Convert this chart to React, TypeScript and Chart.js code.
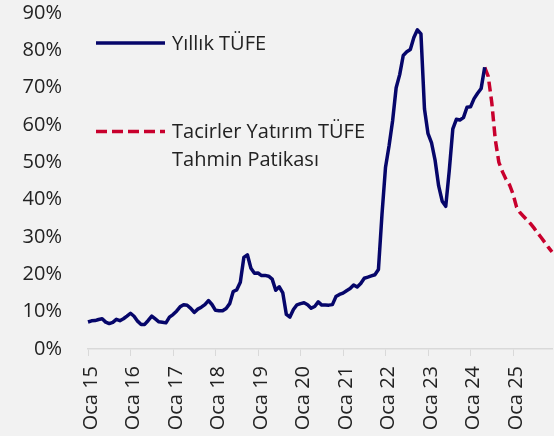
import React, { useEffect, useRef } from "react";
import { Chart, registerables } from "chart.js";

Chart.register(...registerables);

const monthNames = ["Oca", "Şub", "Mar", "Nis", "May", "Haz", "Tem", "Ağu", "Eyl", "Eki", "Kas", "Ara"];
const years = [15, 16, 17, 18, 19, 20, 21, 22, 23, 24, 25];

const tufe2015 = [7.24, 7.55, 7.61, 7.91, 8.09, 7.2, 6.81, 7.14, 7.95, 7.58, 8.1, 8.81];
const tufe2016 = [9.58, 8.78, 7.46, 6.57, 6.58, 7.64, 8.79, 8.05, 7.28, 7.16, 7.0, 8.53];
const tufe2017 = [9.22, 10.13, 11.29, 11.87, 11.72, 10.9, 9.79, 10.68, 11.2, 11.9, 12.98, 11.92];
const tufe2018 = [10.35, 10.26, 10.23, 10.85, 12.15, 15.39, 15.85, 17.9, 24.52, 25.24, 21.62, 20.3];
const tufe2019 = [20.35, 19.67, 19.71, 19.5, 18.71, 15.72, 16.65, 15.01, 9.26, 8.55, 10.56, 11.84];
const tufe2020 = [12.15, 12.37, 11.86, 10.94, 11.39, 12.62, 11.76, 11.77, 11.75, 11.89, 14.03, 14.6];
const tufe2021 = [14.97, 15.61, 16.19, 17.14, 16.59, 17.53, 18.95, 19.25, 19.58, 19.89, 21.31, 36.08];
const tufe2022 = [48.69, 54.44, 61.14, 69.97, 73.5, 78.62, 79.6, 80.21, 83.45, 85.51, 84.39, 64.27];
const tufe2023 = [57.68, 55.18, 50.51, 43.68, 39.59, 38.21, 47.83, 58.94, 61.53, 61.36, 61.98, 64.77];
const tufe2024 = [64.86, 67.07, 68.5, 69.8, 75.45];

// Forecast path: May 2024 .. Dec 2025
const tahmin = [75.45, 73, 66, 56, 50, 47.5, 45.5, 44, 41.5, 38, 36.5, 35.5, 34.5, 33.5, 32.3, 31, 29.8, 28.5, 27.2, 26];

const yTicks = [0, 10, 20, 30, 40, 50, 60, 70, 80, 90];

const labels: string[] = [];
years.forEach((y) => monthNames.forEach((m) => labels.push(`${m} ${y}`)));

const actual: (number | null)[] = [
  ...tufe2015, ...tufe2016, ...tufe2017, ...tufe2018, ...tufe2019,
  ...tufe2020, ...tufe2021, ...tufe2022, ...tufe2023, ...tufe2024,
];
const forecastStart = actual.length - 1;
const actualData: (number | null)[] = labels.map((_, i) => (i < actual.length ? actual[i] : null));
const forecastData: (number | null)[] = labels.map((_, i) =>
  i >= forecastStart && i - forecastStart < tahmin.length ? tahmin[i - forecastStart] : null
);

const BLUE = "#06066a";
const RED = "#c8002d";
const TEXT = "#222222";
const FONT = '"Open Sans", "Noto Sans", sans-serif';

const legendPlugin = {
  id: "customLegend",
  afterDraw(chart: any) {
    const ctx = chart.ctx;
    ctx.save();
    ctx.lineWidth = 3.5;
    ctx.lineCap = "butt";
    ctx.strokeStyle = BLUE;
    ctx.beginPath();
    ctx.moveTo(96, 43);
    ctx.lineTo(165, 43);
    ctx.stroke();

    ctx.strokeStyle = RED;
    ctx.setLineDash([11, 5]);
    ctx.beginPath();
    ctx.moveTo(96, 131.5);
    ctx.lineTo(165, 131.5);
    ctx.stroke();
    ctx.setLineDash([]);

    ctx.fillStyle = TEXT;
    ctx.font = `20px ${FONT}`;
    ctx.textBaseline = "middle";
    ctx.textAlign = "left";
    ctx.fillText("Yıllık TÜFE", 172, 44);
    ctx.fillText("Tacirler Yatırım TÜFE", 172, 132);
    ctx.fillText("Tahmin Patikası", 172, 160.5);
    ctx.restore();
  },
};

export default function App() {
  const ref = useRef<HTMLCanvasElement | null>(null);

  useEffect(() => {
    document.body.style.margin = "0";
    document.body.style.background = "#f2f2f2";
    if (!ref.current) return;
    const chart = new Chart(ref.current, {
      type: "line",
      data: {
        labels,
        datasets: [
          {
            label: "Yıllık TÜFE",
            data: actualData,
            borderColor: BLUE,
            backgroundColor: BLUE,
            borderWidth: 3.5,
            pointRadius: 0,
            tension: 0,
            borderJoinStyle: "round",
            spanGaps: false,
          },
          {
            label: "Tacirler Yatırım TÜFE Tahmin Patikası",
            data: forecastData,
            borderColor: RED,
            backgroundColor: RED,
            borderWidth: 3.5,
            borderDash: [10, 5],
            pointRadius: 0,
            tension: 0,
            spanGaps: false,
          },
        ],
      },
      options: {
        animation: false,
        responsive: false,
        maintainAspectRatio: false,
        layout: { padding: { top: 13, right: 2, left: 0, bottom: 0 } },
        plugins: {
          legend: { display: false },
          tooltip: { enabled: false },
        },
        scales: {
          x: {
            type: "category",
            offset: false,
            grid: {
              display: true,
              drawOnChartArea: false,
              drawTicks: true,
              tickLength: 7,
              color: "#d9d9d9",
            },
            border: { display: true, color: "#d9d9d9", width: 1.5 },
            ticks: {
              autoSkip: false,
              maxRotation: 90,
              minRotation: 90,
              padding: 10,
              labelOffset: 3,
              color: TEXT,
              font: { size: 20, family: FONT },
              callback: (_v: any, i: number) => (labels[i].startsWith("Oca") ? labels[i] : null),
            },
            afterFit: (s: any) => {
              s.height = 87;
            },
          },
          y: {
            min: 0,
            max: 90,
            afterBuildTicks: (s: any) => {
              s.ticks = yTicks.map((v) => ({ value: v }));
            },
            grid: { display: false, drawTicks: false },
            border: { display: false },
            ticks: {
              padding: 26,
              color: TEXT,
              font: { size: 20, family: FONT },
              callback: (v: any) => `${v}%`,
            },
            afterFit: (s: any) => {
              s.width = 88;
              s.paddingTop = 0;
              s.paddingBottom = 0;
            },
          },
        },
      },
      plugins: [legendPlugin],
    });
    return () => chart.destroy();
  }, []);

  return (
    <div style={{ width: 554, height: 436, background: "#f2f2f2" }}>
      <canvas ref={ref} width={554} height={436} style={{ display: "block" }} />
    </div>
  );
}
